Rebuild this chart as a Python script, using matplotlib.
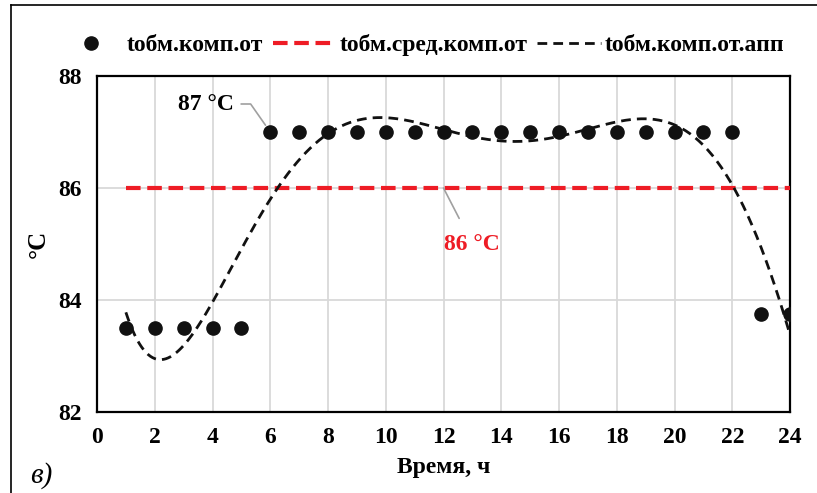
import numpy as np
import matplotlib
matplotlib.use("Agg")
import matplotlib.pyplot as plt
from matplotlib.lines import Line2D

plt.rcParams["font.family"] = ["Liberation Serif", "DejaVu Serif"]

# Часы суток и температура обратной воды компрессора, °C
hours = list(range(1, 25))
t_comp = [83.5, 83.5, 83.5, 83.5, 83.5,
          87, 87, 87, 87, 87, 87, 87, 87, 87, 87, 87, 87, 87, 87, 87, 87, 87,
          83.75, 83.75]
t_mean = 86.0
poly_degree = 6

xticks = list(range(0, 25, 2))
yticks = [82, 84, 86, 88]

# полиномиальная аппроксимация по часовым значениям
coef = np.polyfit(hours, t_comp, poly_degree)
xs = np.linspace(hours[0], hours[-1], 300)
ys = np.polyval(coef, xs)

fig = plt.figure(figsize=(8.17, 4.93), dpi=100)
W, H = 817, 493
ax = fig.add_axes([97 / W, 1 - 412 / H, (790 - 97) / W, (412 - 76) / H])

ax.plot(hours, t_comp, "o", color="#111111", markersize=9.5, zorder=4,
        label="tобм.комп.от")
ax.plot([hours[0], hours[-1]], [t_mean, t_mean], color="#ee1c25", lw=3,
        dashes=(3.5, 1.6), zorder=3, label="tобм.сред.комп.от")
ax.plot(xs, ys, color="#111111", lw=2, dashes=(3.5, 2.2), zorder=3,
        label="tобм.комп.от.апп")

ax.set_xlim(0, 24)
ax.set_ylim(82, 88)
ax.set_xticks(xticks)
ax.set_yticks(yticks)
ax.grid(True, color="#d9d9d9", lw=1.3)
ax.set_axisbelow(True)
ax.tick_params(length=0, labelsize=17, pad=11)
for lbl in ax.get_xticklabels() + ax.get_yticklabels():
    lbl.set_fontweight("bold")
for sp in ax.spines.values():
    sp.set_linewidth(1.6)
    sp.set_color("black")

ax.set_xlabel("Время, ч", fontsize=17, fontweight="bold", labelpad=6)
ax.set_ylabel("°C", fontsize=18, fontweight="bold", labelpad=6)

# подписи значений с выносками
ax.annotate("87 °C", xy=(6, 87), xytext=(4.75, 87.5), fontsize=17,
            fontweight="bold", ha="right", va="center",
            arrowprops=dict(arrowstyle="-", color="#a0a0a0", lw=1.2,
                            connectionstyle="angle,angleA=0,angleB=125,rad=0",
                            shrinkA=3, shrinkB=6))
ax.annotate("86 °C", xy=(12, t_mean), xytext=(13.0, 85.0), fontsize=17,
            fontweight="bold", color="#ee1c25", ha="center", va="center",
            arrowprops=dict(arrowstyle="-", color="#a0a0a0", lw=1.2,
                            shrinkA=10, shrinkB=0))

handles = [
    Line2D([], [], marker="o", ls="none", color="#111111", markersize=9.5),
    Line2D([], [], color="#ee1c25", lw=3, dashes=(3.5, 1.6)),
    Line2D([], [], color="#111111", lw=2, dashes=(3.5, 2.2)),
]
fig.legend(handles, ["tобм.комп.от", "tобм.сред.комп.от", "tобм.комп.от.апп"],
           loc="center", bbox_to_anchor=(422 / W, 1 - 45 / H), ncol=3,
           frameon=False, prop=dict(weight="bold", size=17),
           handlelength=2.7, handletextpad=0.15, columnspacing=0.4,
           borderpad=0, borderaxespad=0)

fig.text(30 / W, 1 - 476 / H, "в)", fontsize=21, style="italic",
         ha="left", va="center")

# рамка рисунка
fig.add_artist(Line2D([11 / W, 11 / W], [0, 1 - 5 / H], color="black",
                      lw=1.2, transform=fig.transFigure))
fig.add_artist(Line2D([11 / W, 1], [1 - 5 / H, 1 - 5 / H], color="black",
                      lw=1.2, transform=fig.transFigure))

fig.savefig("out.png", dpi=100)
